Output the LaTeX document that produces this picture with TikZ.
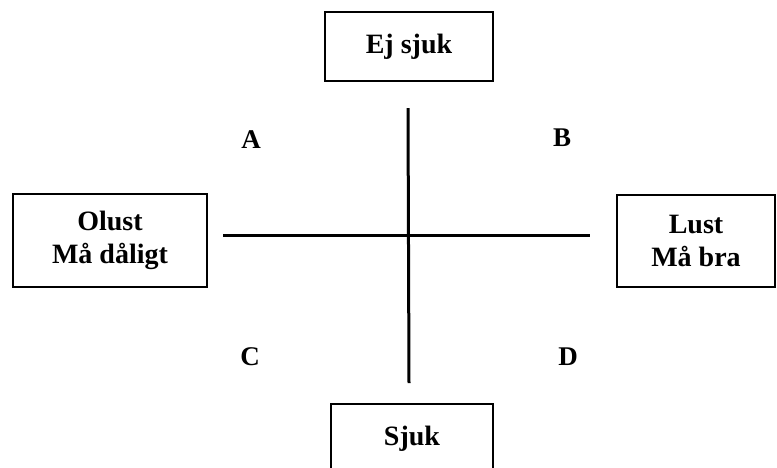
\documentclass[tikz,border=0pt]{standalone}
\usepackage{fontspec}
\setmainfont{Liberation Serif}
\usetikzlibrary{positioning}

\begin{document}
\begin{tikzpicture}[x=1pt,y=-1pt,
  box/.style={rectangle,draw,line width=2.4pt,align=center,inner sep=0pt,
    font=\fontsize{28}{33}\selectfont\bfseries},
  letter/.style={font=\fontsize{27}{30}\selectfont\bfseries}]

  \useasboundingbox (0,0) rectangle (777,467);

  % Kaestchen
  \node[box,minimum width=168pt,minimum height=69pt] (ejsjuk) at (409,46.5) {Ej sjuk};
  \node[box,minimum width=194pt,minimum height=93pt] (olust)  at (110,240.5) {Olust\\Må dåligt};
  \node[box,minimum width=158pt,minimum height=92pt] (lust)   at (696,241) {Lust\\Må bra};
  \node[box,minimum width=162pt,minimum height=70pt] (sjuk)   at (412,439) {Sjuk};

  % Quadranten
  \node[letter] (A) at (251,140) {A};
  \node[letter] (B) at (562,138) {B};
  \node[letter] (C) at (250,357) {C};
  \node[letter] (D) at (568,357) {D};

  % Achsen
  \coordinate (top) at (408,108);
  \coordinate (bot) at (409,383);
  \coordinate (lft) at (223,235);
  \coordinate (rgt) at (590,235);
  \draw[line width=3pt] (top) -- (bot);
  \draw[line width=3pt] (lft) -- (rgt);

\end{tikzpicture}
\end{document}
